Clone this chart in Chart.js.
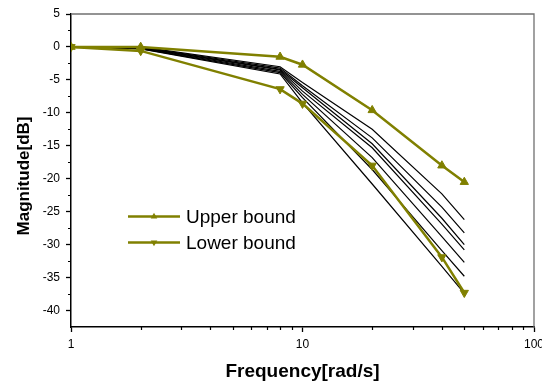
<!DOCTYPE html>
<html>
<head>
<meta charset="utf-8">
<script src="https://cdn.jsdelivr.net/npm/chart.js@4/dist/chart.umd.min.js"></script>
<style>
html,body{margin:0;padding:0;background:#fff;}
canvas{display:block;}
</style>
</head>
<body>
<canvas id="c" width="542" height="382"></canvas>
<script>
// ---- data ----
const freq = [1, 2, 8, 10, 20, 40, 50];
const upperBound = [0, 0, -1.5, -2.7, -9.6, -18.0, -20.5];
const lowerBound = [0, -0.6, -6.4, -8.6, -18.0, -31.9, -37.3];
const curve1 = [0, 0, -3.0, -5.4, -12.5, -22.3, -26.2];
const curve2 = [0, -0.05, -3.2, -5.9, -13.8, -24.3, -28.2];
const curve3 = [0, -0.1, -3.4, -6.2, -14.7, -26.0, -30.0];
const curve4 = [0, -0.15, -3.5, -6.7, -15.3, -26.9, -30.8];
const curve5 = [0, -0.2, -3.7, -7.2, -16.8, -28.8, -32.7];
const curve6 = [0, -0.25, -3.9, -7.7, -18.6, -30.9, -34.8];
const curve7 = [0, -0.3, -4.1, -8.5, -20.8, -33.3, -37.4];
const seriesNames = ['Upper bound', 'Lower bound'];
const xTickValues = [1, 10, 100];
const xTickLabels = ['1', '10', '100'];
const xMinorTicks = [2, 3, 4, 5, 6, 7, 8, 9, 20, 30, 40, 50, 60, 70, 80, 90];
const yTickValues = [5, 0, -5, -10, -15, -20, -25, -30, -35, -40];
const yTickLabels = ['5', '0', '-5', '-10', '-15', '-20', '-25', '-30', '-35', '-40'];
const yMinorTicks = [2.5, -2.5, -7.5, -12.5, -17.5, -22.5, -27.5, -32.5, -37.5];
const xTitle = 'Frequency[rad/s]';
const yTitle = 'Magnitude[dB]';

const OLIVE = '#808000';
const FONT = "'Liberation Sans', Arial, sans-serif";

function pts(arr){ return freq.map((f,i)=>({x:f, y:arr[i]})); }

const blackCurves = [curve1, curve2, curve3, curve4, curve5, curve6, curve7];

const datasets = [
  {label: seriesNames[0], data: pts(upperBound), borderColor: OLIVE, backgroundColor: OLIVE,
   borderWidth: 2.5, pointStyle: 'triangle', pointRadius: 4.8, pointBorderWidth: 1, pointRotation: 0},
  {label: seriesNames[1], data: pts(lowerBound), borderColor: OLIVE, backgroundColor: OLIVE,
   borderWidth: 2.5, pointStyle: 'triangle', pointRadius: 4.8, pointBorderWidth: 1, pointRotation: 180}
].concat(blackCurves.map((c,i)=>({label: 'curve'+(i+1), data: pts(c), borderColor: '#000',
   borderWidth: 1.2, pointRadius: 0})));

const decor = {
  id: 'decor',
  afterDraw(chart){
    const ctx = chart.ctx, a = chart.chartArea;
    const xs = chart.scales.x, ys = chart.scales.y;
    ctx.save();
    // top & right frame
    ctx.strokeStyle = '#707070'; ctx.lineWidth = 1.3;
    ctx.beginPath();
    ctx.moveTo(a.left, a.top); ctx.lineTo(a.right, a.top); ctx.lineTo(a.right, a.bottom);
    ctx.stroke();
    // minor ticks
    ctx.strokeStyle = '#000'; ctx.lineWidth = 1.2;
    ctx.beginPath();
    xMinorTicks.forEach(v=>{ const px = Math.round(xs.getPixelForValue(v))+0.5;
      ctx.moveTo(px, a.bottom); ctx.lineTo(px, a.bottom+3); });
    yMinorTicks.forEach(v=>{ const py = Math.round(ys.getPixelForValue(v))+0.5;
      ctx.moveTo(a.left, py); ctx.lineTo(a.left-3, py); });
    ctx.stroke();
    // titles
    ctx.fillStyle = '#000';
    ctx.textAlign = 'center'; ctx.textBaseline = 'alphabetic';
    ctx.font = 'bold 19px ' + FONT;
    ctx.fillText(xTitle, (a.left+a.right)/2, 376.5);
    ctx.font = 'bold 17px ' + FONT;
    ctx.save();
    ctx.translate(28.5, 176); ctx.rotate(-Math.PI/2);
    ctx.fillText(yTitle, 0, 0);
    ctx.restore();
    // legend
    const rows = [{y:216.5, rot:0}, {y:242.5, rot:180}];
    rows.forEach((r,i)=>{
      ctx.strokeStyle = OLIVE; ctx.lineWidth = 2.5;
      ctx.beginPath(); ctx.moveTo(128, r.y); ctx.lineTo(180, r.y); ctx.stroke();
      ctx.fillStyle = OLIVE;
      const rad = 3.8, cx = 154, cy = r.y;
      const s = r.rot ? -1 : 1;
      ctx.beginPath();
      ctx.moveTo(cx, cy - s*rad);
      ctx.lineTo(cx + rad*0.866, cy + s*rad*0.5);
      ctx.lineTo(cx - rad*0.866, cy + s*rad*0.5);
      ctx.closePath(); ctx.fill();
      ctx.fillStyle = '#000';
      ctx.font = '19px ' + FONT;
      ctx.textAlign = 'left'; ctx.textBaseline = 'middle';
      ctx.fillText(seriesNames[i], 186, r.y + 1);
    });
    ctx.restore();
  }
};

new Chart(document.getElementById('c'), {
  type: 'line',
  data: {datasets},
  options: {
    responsive: false, animation: false, devicePixelRatio: 1,
    layout: {padding: {left: 0, right: 8, top: 14, bottom: 0}},
    plugins: {legend: {display: false}, tooltip: {enabled: false}},
    elements: {line: {tension: 0}},
    scales: {
      x: {
        type: 'logarithmic', min: 1, max: 100,
        afterBuildTicks: s => { s.ticks = xTickValues.map(v=>({value:v})); },
        afterFit: s => { s.height = 55; s.paddingLeft = 0; s.paddingRight = 0; },
        ticks: {
          autoSkip: false, maxRotation: 0, minRotation: 0, padding: 5, color: '#000',
          font: {family: FONT, size: 12},
          callback: (v) => { const i = xTickValues.indexOf(v); return i >= 0 ? xTickLabels[i] : ''; }
        },
        grid: {drawOnChartArea: false, drawTicks: true, tickLength: 5, tickColor: '#000', tickWidth: 1.3},
        border: {display: true, color: '#000', width: 1.5}
      },
      y: {
        type: 'linear', min: -42.5, max: 5,
        afterBuildTicks: s => { s.ticks = yTickValues.map(v=>({value:v})); },
        afterFit: s => { s.width = 71; s.paddingTop = 0; s.paddingBottom = 0; },
        ticks: {
          autoSkip: false, padding: 6, color: '#000',
          font: {family: FONT, size: 12},
          callback: (v) => { const i = yTickValues.indexOf(v); return i >= 0 ? yTickLabels[i] : ''; }
        },
        grid: {drawOnChartArea: false, drawTicks: true, tickLength: 5, tickColor: '#000', tickWidth: 1.3},
        border: {display: true, color: '#000', width: 1.5}
      }
    }
  },
  plugins: [decor]
});
</script>
</body>
</html>
